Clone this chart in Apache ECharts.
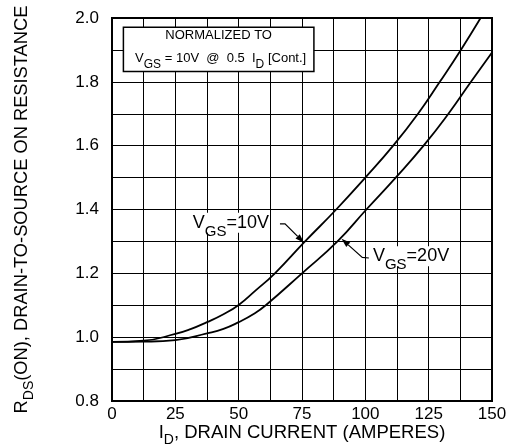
<!DOCTYPE html>
<html><head><meta charset="utf-8">
<script src="https://cdn.jsdelivr.net/npm/echarts@6/dist/echarts.min.js"></script>
<style>html,body{margin:0;padding:0;background:#fff}#c{width:511px;height:444px}</style>
</head><body><div id="c"></div>
<script>
// Drain current (A) and normalized RDS(on) for each gate voltage
const current10 = [0, 12.5, 25, 31, 37.5, 44, 50, 56.5, 64.3, 76.2, 88.5, 100, 111, 120.8, 129.4, 137.7, 145.5];
const rds10     = [0.985, 0.989, 1.010, 1.025, 1.047, 1.072, 1.101, 1.145, 1.200, 1.300, 1.400, 1.500, 1.600, 1.700, 1.800, 1.900, 2.000];
const current20 = [0, 12.5, 25, 37.5, 44, 50, 56.4, 60.7, 75, 89, 100.4, 112, 123, 132.8, 141.7, 150];
const rds20     = [0.985, 0.986, 0.991, 1.012, 1.026, 1.047, 1.075, 1.100, 1.200, 1.300, 1.400, 1.500, 1.600, 1.700, 1.800, 1.892];
const xTickLabels = [0, 25, 50, 75, 100, 125, 150];
const yTickLabels = [0.8, 1.0, 1.2, 1.4, 1.6, 1.8, 2.0];
// annotation anchors in data coordinates
const label10Pos = [31.9, 1.362];
const arrow10 = [[66.3, 1.355], [68.3, 1.355], [75.8, 1.296]];
const label20Pos = [103, 1.257];
const arrow20 = [[101.4, 1.248], [98.8, 1.250], [90.6, 1.308]];
const boxCorners = [[4.5, 1.971], [79.7, 1.832]];

const FONT = '"Liberation Sans", Arial, Helvetica, sans-serif';
const chart = echarts.init(document.getElementById('c'), null, {renderer: 'canvas'});
const toPairs = (xs, ys) => xs.map((x, i) => [x, ys[i]]);

const subRich = (fs, sfs, pad) => ({
  n: {fontSize: fs, fontFamily: FONT, color: '#000', lineHeight: fs + 2},
  s: {fontSize: sfs, fontFamily: FONT, color: '#000', lineHeight: sfs, padding: [pad, 0, 0, 0]}
});

chart.setOption({
  animation: false,
  backgroundColor: '#fff',
  grid: {left: 112, right: 19, top: 18, bottom: 43, containLabel: false, outerBoundsMode: 'none',
         show: true, borderColor: '#000', borderWidth: 2, z: 3},
  xAxis: {
    type: 'value', min: 0, max: 150, interval: 12.5,
    axisLine: {show: false}, axisTick: {show: false},
    splitLine: {show: true, lineStyle: {color: '#000', width: 1}},
    axisLabel: {
      margin: 5, fontSize: 17, fontFamily: FONT, color: '#000',
      formatter: v => xTickLabels.some(t => Math.abs(t - v) < 1e-6) ? String(v) : ''
    },
    name: '{n|I}{s|D}{n|, DRAIN CURRENT (AMPERES)}',
    nameLocation: 'middle', nameGap: 22, nameMoveOverlap: false,
    nameTextStyle: {rich: subRich(18.5, 14, 14)}
  },
  yAxis: {
    type: 'value', min: 0.8, max: 2.0, interval: 0.1,
    axisLine: {show: false}, axisTick: {show: false},
    splitLine: {show: true, lineStyle: {color: '#000', width: 1}},
    axisLabel: {
      margin: 13, fontSize: 17, fontFamily: FONT, color: '#000',
      formatter: v => yTickLabels.some(t => Math.abs(t - v) < 1e-6) ? v.toFixed(1) : ''
    },
    name: '{n|R}{s|DS}{n|(ON), DRAIN-TO-SOURCE ON RESISTANCE}',
    nameLocation: 'middle', nameGap: 80, nameMoveOverlap: false,
    nameTextStyle: {rich: subRich(18.3, 14, 14)}
  },
  series: [
    {type: 'line', data: toPairs(current10, rds10), smooth: 0.5,
     showSymbol: false, lineStyle: {color: '#000', width: 1.8}, clip: true, z: 4},
    {type: 'line', data: toPairs(current20, rds20), smooth: 0.5,
     showSymbol: false, lineStyle: {color: '#000', width: 1.8}, clip: true, z: 4}
  ]
});

function px(p) { return chart.convertToPixel({gridIndex: 0}, p); }

function arrowElems(pts) {
  const P = pts.map(px);
  const a = P[P.length - 2], b = P[P.length - 1];
  const ang = Math.atan2(b[1] - a[1], b[0] - a[0]);
  const L = 9, W = 3;
  const base = [b[0] - L * Math.cos(ang), b[1] - L * Math.sin(ang)];
  const head = [b,
    [base[0] + W * Math.sin(ang), base[1] - W * Math.cos(ang)],
    [base[0] - W * Math.sin(ang), base[1] + W * Math.cos(ang)]];
  const shaft = P.slice(0, -1).concat([base]);
  return [
    {type: 'polyline', shape: {points: shaft}, style: {stroke: '#000', lineWidth: 1.2, fill: null}, z: 10},
    {type: 'polygon', shape: {points: head}, style: {fill: '#000'}, z: 10}
  ];
}

const b0 = px(boxCorners[0]), b1 = px(boxCorners[1]);
const l10 = px(label10Pos), l20 = px(label20Pos);
const bigRich = {
  n: {fontSize: 18, fontFamily: FONT, fill: '#000', lineHeight: 20},
  s: {fontSize: 15, fontFamily: FONT, fill: '#000', lineHeight: 15, padding: [18, 0, 0, 0]}
};
const smallRich = {
  n: {fontSize: 13, fontFamily: FONT, fill: '#000', lineHeight: 14},
  s: {fontSize: 12, fontFamily: FONT, fill: '#000', lineHeight: 12, padding: [12, 0, 0, 0]}
};
const cx = (b0[0] + b1[0]) / 2;

chart.setOption({
  graphic: [
    {type: 'rect', shape: {x: b0[0], y: b0[1], width: b1[0] - b0[0], height: b1[1] - b0[1]},
     style: {fill: '#fff', stroke: '#000', lineWidth: 1.5}, z: 10},
    {type: 'text', x: cx, y: b0[1] + 8, z: 11,
     style: {text: 'NORMALIZED TO', font: '13px ' + FONT, fill: '#000', textAlign: 'center', textVerticalAlign: 'middle'}},
    {type: 'text', x: cx + 2, y: b0[1] + 31, z: 11,
     style: {text: '{n|V}{s|GS}{n| = 10V  @  0.5  I}{s|D}{n| [Cont.]}', rich: smallRich,
             textAlign: 'center', textVerticalAlign: 'middle'}},
    {type: 'text', x: l10[0], y: l10[1] + 1, z: 11,
     style: {text: '{n|V}{s|GS}{n|=10V}', rich: bigRich, textAlign: 'left', textVerticalAlign: 'middle',
             backgroundColor: '#fff'}},
    {type: 'text', x: l20[0], y: l20[1] + 1, z: 11,
     style: {text: '{n|V}{s|GS}{n|=20V}', rich: bigRich, textAlign: 'left', textVerticalAlign: 'middle',
             backgroundColor: '#fff'}}
  ].concat(arrowElems(arrow10), arrowElems(arrow20))
});
</script>
</body></html>
